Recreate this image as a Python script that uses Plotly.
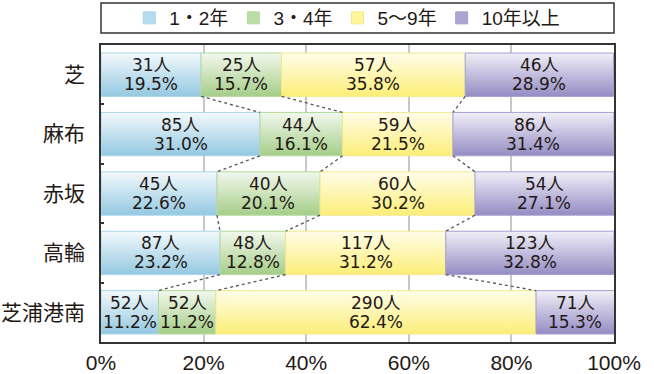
import plotly.graph_objects as go

# Regions (top to bottom) and tenure groups
regions = ["芝", "麻布", "赤坂", "高輪", "芝浦港南"]
groups = ["1・2年", "3・4年", "5〜9年", "10年以上"]

# Head counts per tenure group, one value per region
count_1_2 = [31, 85, 45, 87, 52]
count_3_4 = [25, 44, 40, 48, 52]
count_5_9 = [57, 59, 60, 117, 290]
count_10p = [46, 86, 54, 123, 71]

# Shares (%) per tenure group, one value per region
pct_1_2 = [19.5, 31.0, 22.6, 23.2, 11.2]
pct_3_4 = [15.7, 16.1, 20.1, 12.8, 11.2]
pct_5_9 = [35.8, 21.5, 30.2, 31.2, 62.4]
pct_10p = [28.9, 31.4, 27.1, 32.8, 15.3]

counts = [count_1_2, count_3_4, count_5_9, count_10p]
pcts = [pct_1_2, pct_3_4, pct_5_9, pct_10p]

# Bar styling: (gradient bottom, gradient top, outline, legend swatch)
styles = [
    ("#94c8e1", "#f3f9fc", "#a9d6ea", "#b5dbee"),
    ("#a5cd88", "#f2f8ed", "#b3d99d", "#bcdca5"),
    ("#fcee78", "#fffde9", "#f4e88c", "#fff59a"),
    ("#948cc3", "#f1eff8", "#a59fd0", "#aca5d3"),
]

LATIN = "Liberation Sans, Noto Sans CJK JP, sans-serif"
LABEL = "DejaVu Sans, Noto Sans CJK JP, sans-serif"
CJK = "Noto Sans CJK JP, sans-serif"
INK = "#231815"
HALF = 0.365  # half bar thickness in category units

fig = go.Figure()

# Segment boundaries for each region
bounds = []
for r in range(len(regions)):
    edges = [0.0]
    for g in range(len(groups)):
        edges.append(edges[-1] + pcts[g][r])
    bounds.append(edges)

# Stacked segments drawn as gradient-filled rectangles
annotations = []
for g, name in enumerate(groups):
    bottom, top, outline, swatch = styles[g]
    for r in range(len(regions)):
        left, right = bounds[r][g], bounds[r][g + 1]
        y0, y1 = r - HALF, r + HALF
        fig.add_trace(go.Scatter(
            x=[left, right, right, left, left],
            y=[y0, y0, y1, y1, y0],
            mode="lines", fill="toself",
            line=dict(color=outline, width=1),
            fillgradient=dict(type="vertical",
                              colorscale=[[0, bottom], [1, top]],
                              start=y1, stop=y0),
            showlegend=False, hoverinfo="skip",
        ))
        xc = (left + right) / 2
        annotations.append(dict(
            x=xc, y=r, xref="x", yref="y", showarrow=False,
            text=f"{counts[g][r]}人", yshift=9.5,
            font=dict(family=LABEL, size=17, color=INK)))
        annotations.append(dict(
            x=xc, y=r, xref="x", yref="y", showarrow=False,
            text=f"{pcts[g][r]:.1f}%", yshift=-9.5,
            font=dict(family=LABEL, size=17, color=INK)))

# Dotted connectors between matching boundaries of neighbouring bars
cx, cy = [], []
for r in range(len(regions) - 1):
    for k in range(1, len(groups)):
        cx += [bounds[r][k], bounds[r + 1][k], None]
        cy += [r + HALF, r + 1 - HALF, None]
fig.add_trace(go.Scatter(
    x=cx, y=cy, mode="lines",
    line=dict(color="#555555", width=1.3, dash="dot"),
    showlegend=False, hoverinfo="skip",
))

# Legend entries
for g, name in enumerate(groups):
    bottom, top, outline, swatch = styles[g]
    fig.add_trace(go.Bar(
        x=[None], y=[None], orientation="h", name=name,
        marker=dict(color=swatch, line=dict(color=outline, width=1)),
    ))

W, H = 654, 374
PLOT_TOP, PLOT_BOTTOM = 45, 342
PLOT_H = PLOT_BOTTOM - PLOT_TOP


def paper_y(px):
    return (PLOT_BOTTOM - px) / PLOT_H


fig.update_layout(
    width=W, height=H,
    margin=dict(l=101, r=40, t=PLOT_TOP, b=H - PLOT_BOTTOM),
    paper_bgcolor="white", plot_bgcolor="white",
    annotations=annotations,
    showlegend=True,
    legend=dict(
        orientation="h", x=0.48, xanchor="center",
        yref="container", y=(H - 18) / H, yanchor="middle",
        font=dict(family=LATIN, size=19, color=INK),
        bgcolor="rgba(0,0,0,0)", borderwidth=0,
    ),
    shapes=[dict(
        type="rect", xref="paper", yref="paper",
        x0=0, x1=1, y0=paper_y(33), y1=paper_y(3),
        line=dict(color="#333333", width=1.5), fillcolor="rgba(0,0,0,0)",
    )],
    xaxis=dict(
        range=[0, 100], tickvals=[0, 20, 40, 60, 80, 100],
        ticktext=["0%", "20%", "40%", "60%", "80%", "100%"],
        showgrid=True, gridcolor="#c8c8c8", gridwidth=1.5,
        zeroline=False, showline=True, linecolor="#333333", linewidth=1.5,
        mirror=True, ticks="", ticklabelstandoff=1, automargin=False,
        tickfont=dict(family=LATIN, size=21, color=INK),
        fixedrange=True,
    ),
    yaxis=dict(
        range=[len(regions) - 0.5, -0.5],
        tickvals=list(range(len(regions))), ticktext=regions,
        showgrid=False, zeroline=False, showline=True,
        linecolor="#333333", linewidth=1.5, mirror=True,
        ticks="", ticklabelstandoff=10, automargin=False,
        minor=dict(tickvals=[0.5, 1.5, 2.5, 3.5], ticks="inside",
                   ticklen=3, tickcolor="#333333", tickwidth=1.5),
        tickfont=dict(family=CJK, size=21, color=INK),
        fixedrange=True,
    ),
)

fig.write_html("out.html")
